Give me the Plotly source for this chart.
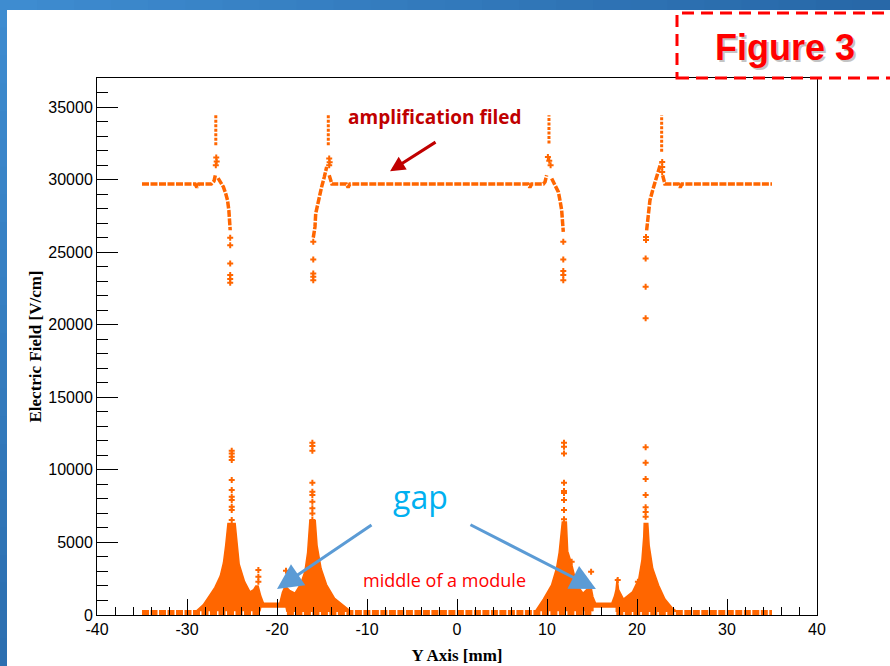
import plotly.graph_objects as go

ORANGE = "#ff6600"

# ---------------- data ----------------
# amplification-field curve (None separates continuous runs)
upper_x = [-35, -29.1, -28.9, -28.7, -27.3, -27.0, -26.85, None,
           -26.55, -26.3, -25.96, -25.7, -25.5, -25.35, -25.25, -25.2, None,
           -15.97, -15.78, -15.7, -15.4, -15.04, -14.74, -14.48, None,
           -14.2, -14.0, -13.9, -12.3, -12.1, -11.9, 7.9, 8.1, 8.3, 9.6, 9.78, 9.96, None,
           10.52, 10.89, 11.26, 11.44, 11.63, 11.74, 11.81, None,
           21.07, 21.26, 21.44, 21.74, 22.1, 22.4, 22.63, None,
           22.85, 23.0, 23.1, 24.6, 24.8, 25.0, 35]
upper_y = [29700, 29700, 29450, 29700, 29700, 29900, 30300, None,
           30100, 29840, 29500, 29040, 28580, 27890, 27200, 26510, None,
           26000, 26740, 27660, 28580, 29500, 30190, 30875, None,
           30300, 29840, 29700, 29700, 29450, 29700, 29700, 29450, 29700, 29700, 29840, 30300, None,
           30075, 29610, 29150, 28580, 27890, 26970, 26400, None,
           26500, 27890, 28580, 29270, 29960, 30530, 31110, None,
           30300, 29800, 29700, 29700, 29450, 29700, 29700]

# field spikes at the mesh edges
spike_x = [-26.8, -26.8, None, -14.3, -14.3, None, 10.22, 10.22, None, 22.74, 22.74]
spike_y = [32370, 34430, None, 32370, 34430, None, 32480, 34430, None, 31910, 34430]

# isolated points in the upper region
upper_pts_x = [-26.75, -26.7, -26.8,
               -25.2, -25.2, -25.2, -25.2, -25.2, -25.2,
               -15.97, -15.97, -15.97, -15.97, -15.97,
               -14.2, -14.15, -14.2,
               10.1, 10.25, 10.4,
               11.81, 11.81, 11.81, 11.81, 11.81,
               22.8, 22.8, 22.8,
               21.0, 21.0, 20.96, 20.96, 20.96]
upper_pts_y = [31520, 31250, 30990,
               26000, 25480, 24220, 23420, 23150, 22890,
               25710, 24500, 23530, 23300, 23070,
               31450, 31200, 30990,
               31560, 31300, 30990,
               25710, 24500, 23700, 23420, 23070,
               31220, 30870, 30530,
               26050, 25830, 24570, 22610, 20450]

# dense drift-field clouds (outlines)
module_a_x = [-29.0, -28.2, -27.6, -26.9, -26.3, -25.95, -25.7, -25.45, -24.65, -24.45, -24.2, -23.6,
              -23.0, -22.6, -22.35, -22.1, -21.8, -21.5, -19.7, -19.4, -19.1, -18.6, -18.0, -17.4,
              -16.9, -16.6, -16.45, -16.35, -15.75, -15.55, -15.1, -14.5, -13.6, -12.4, -11.8,
              -18.9, -19.0, -21.8, -21.9]
module_a_y = [250, 700, 1250, 1900, 2700, 3600, 4800, 6300, 6300, 4800, 3500, 2300,
              1600, 1750, 2000, 2000, 1300, 805, 805, 1550, 2000, 1700, 1500, 2100,
              3000, 4300, 5900, 6500, 6500, 4800, 3200, 2100, 1150, 550, 250,
              250, 550, 550, 250]
module_b_x = [8.7, 9.6, 10.5, 11.05, 11.35, 11.55, 11.7, 12.15, 12.3, 12.7, 13.3, 14.0,
              14.4, 14.9, 15.1, 15.4, 17.2, 17.5, 17.67, 17.8, 17.95, 18.5, 19.5, 20.2,
              20.55, 20.75, 20.8, 21.2, 21.35, 21.75, 22.4, 23.1, 23.9, 24.4,
              17.7, 17.7, 15.1, 15.1]
module_b_y = [250, 1100, 2050, 3200, 4300, 5600, 6400, 6400, 4400, 3600, 2100, 1500,
              1750, 1900, 1260, 805, 805, 1300, 1750, 2530, 1750, 1100, 1600, 2500,
              3800, 5400, 6300, 6300, 4800, 3200, 2050, 1100, 500, 250,
              250, 550, 550, 250]

# isolated points in the lower region
lower_pts_x = [-25.03] * 11 + [-16.07] * 10 + [-22.07, -22.07, -22.07, -19.0, -18.7] \
              + [11.89] * 9 + [12.74] + [20.96] * 7 + [14.9, 17.86, 20.1]
lower_pts_y = [11316, 11133, 10900, 10675, 9300, 8610, 8150, 7920, 7460, 7230, 6540,
               11870, 11640, 11316, 9110, 8490, 8265, 7800, 7350, 7000, 6540,
               3100, 2640, 2290, 3050, 2400,
               11870, 11590, 11135, 9110, 8540, 8400, 7920, 7230, 6590, 3670,
               11550, 10490, 9370, 8265, 7420, 7100, 6770,
               2980, 2410, 2290]

# near-zero field points along the bottom
base_x = [-35, -21.9, None, -18.9, 15.1, None, 17.7, 35]
base_y = [100, 100, None, 100, 100, None, 100, 100]

x_ticks = [-40, -30, -20, -10, 0, 10, 20, 30, 40]
x_tick_text = ["-40", "-30", "-20", "-10", "0", "10", "20", "30", "40"]
y_ticks = [0, 5000, 10000, 15000, 20000, 25000, 30000, 35000]
y_tick_text = ["0", "5000", "10000", "15000", "20000", "25000", "30000", "35000"]

# ---------------- figure ----------------
fig = go.Figure()

for px_, py_ in [(module_a_x, module_a_y), (module_b_x, module_b_y)]:
    fig.add_trace(go.Scatter(x=px_, y=py_, mode="lines", fill="toself",
                             fillcolor=ORANGE, line=dict(color=ORANGE, width=1.5),
                             hoverinfo="skip", showlegend=False))

fig.add_trace(go.Scatter(x=base_x, y=base_y, mode="lines",
                         line=dict(color=ORANGE, width=7, dash="7px,1.5px"),
                         showlegend=False))
fig.add_trace(go.Scatter(x=upper_x, y=upper_y, mode="lines",
                         line=dict(color=ORANGE, width=3.5, dash="7px,1.5px"),
                         showlegend=False))
fig.add_trace(go.Scatter(x=spike_x, y=spike_y, mode="lines",
                         line=dict(color=ORANGE, width=3, dash="3px,1.5px"),
                         showlegend=False))
fig.add_trace(go.Scatter(x=upper_pts_x + lower_pts_x, y=upper_pts_y + lower_pts_y,
                         mode="markers",
                         marker=dict(symbol="cross", size=5, color=ORANGE, line=dict(width=0)),
                         showlegend=False))

# slide background bands (blue gradient)
L, R, T, B = 97, 73, 78, 51
W, H = 890, 666
PW, PH = W - L - R, H - T - B


def px2paper_x(p):
    return (p - L) / PW


def px2paper_y(p):
    return (H - B - p) / PH


shapes = []
n = 24
c0 = (62, 140, 208)
c1 = (40, 104, 168)
for i in range(n):
    t = i / (n - 1)
    col = "rgb(%d,%d,%d)" % tuple(int(c0[k] + (c1[k] - c0[k]) * t) for k in range(3))
    shapes.append(dict(type="rect", xref="paper", yref="paper", layer="below",
                       x0=px2paper_x(W * i / n), x1=px2paper_x(W * (i + 1) / n + 1),
                       y0=px2paper_y(10), y1=px2paper_y(0), line=dict(width=0), fillcolor=col))
for i in range(n):
    t = i / (n - 1)
    col = "rgb(%d,%d,%d)" % tuple(int(c0[k] + (c1[k] - c0[k]) * t * 0.8) for k in range(3))
    shapes.append(dict(type="rect", xref="paper", yref="paper", layer="below",
                       x0=px2paper_x(0), x1=px2paper_x(7),
                       y0=px2paper_y(H * (i + 1) / n + 1), y1=px2paper_y(H * i / n),
                       line=dict(width=0), fillcolor=col))
# dashed "Figure 3" box
shapes.append(dict(type="rect", xref="paper", yref="paper",
                   x0=px2paper_x(677), x1=px2paper_x(900),
                   y0=px2paper_y(78), y1=px2paper_y(13),
                   line=dict(color="#ff0000", width=3, dash="12px,7px"),
                   fillcolor="rgba(0,0,0,0)"))

annotations = [
    dict(xref="paper", yref="paper", x=px2paper_x(786.5), y=px2paper_y(49.5),
         text="<b>Figure 3</b>", showarrow=False,
         font=dict(family="Liberation Sans", size=36, color="#c4c4c4"),
         xanchor="center", yanchor="middle"),
    dict(xref="paper", yref="paper", x=px2paper_x(785), y=px2paper_y(48),
         text="<b>Figure 3</b>", showarrow=False,
         font=dict(family="Liberation Sans", size=36, color="#ff0000"),
         xanchor="center", yanchor="middle"),
    dict(x=-2.44, y=34300, xref="x", yref="y", text="<b>amplification filed</b>",
         showarrow=False, font=dict(family="Open Sans", size=19, color="#c00000")),
    dict(x=-7.44, y=30580, xref="x", yref="y", text="", showarrow=True,
         ax=47, ay=-30, arrowcolor="#c00000", arrowwidth=3, arrowhead=2, arrowsize=1),
    dict(x=-4.1, y=8195, xref="x", yref="y", text="gap", showarrow=False,
         font=dict(family="Open Sans", size=32, color="#00b0f0")),
    dict(x=-20.0, y=1790, xref="x", yref="y", text="", showarrow=True,
         ax=96, ay=-65, arrowcolor="#5b9bd5", arrowwidth=3, arrowhead=2, arrowsize=1.7),
    dict(x=15.44, y=1790, xref="x", yref="y", text="", showarrow=True,
         ax=-127, ay=-65, arrowcolor="#5b9bd5", arrowwidth=3, arrowhead=2, arrowsize=1.7),
    dict(x=-1.44, y=2410, xref="x", yref="y", text="middle of a module", showarrow=False,
         font=dict(family="Open Sans", size=18, color="#ff0000")),
]

fig.update_layout(
    width=W, height=H,
    margin=dict(l=L, r=R, t=T, b=B, pad=0, autoexpand=False),
    paper_bgcolor="white", plot_bgcolor="white",
    shapes=shapes, annotations=annotations,
    showlegend=False,
    font=dict(family="Liberation Sans", color="black"),
)
fig.update_xaxes(
    range=[-40, 40], tickmode="array", tickvals=x_ticks, ticktext=x_tick_text,
    ticks="inside", ticklen=16, tickwidth=1, tickcolor="black",
    minor=dict(dtick=2, tick0=0, ticks="inside", ticklen=8, tickcolor="black", tickwidth=1),
    showline=True, linecolor="black", linewidth=1, mirror=True,
    showgrid=False, zeroline=False, automargin=False,
    tickfont=dict(family="Liberation Sans", size=16, color="black"),
    title=dict(text="<b>Y Axis [mm]</b>", standoff=11,
               font=dict(family="Liberation Serif", size=17, color="black")),
)
fig.update_yaxes(
    range=[0, 37000], tickmode="array", tickvals=y_ticks, ticktext=y_tick_text,
    ticks="inside", ticklen=21, tickwidth=1, tickcolor="black",
    minor=dict(dtick=1000, tick0=0, ticks="inside", ticklen=11, tickcolor="black", tickwidth=1),
    showline=True, linecolor="black", linewidth=1, mirror=True,
    showgrid=False, zeroline=False, automargin=False,
    tickfont=dict(family="Liberation Sans", size=16, color="black"),
    title=dict(text="<b>Electric Field [V/cm]</b>", standoff=2,
               font=dict(family="Liberation Serif", size=17, color="black")),
)

fig.write_html(
    "out.html",
    config={"displayModeBar": False},
    post_script="document.body.style.margin='0';document.body.style.overflow='hidden';",
)
